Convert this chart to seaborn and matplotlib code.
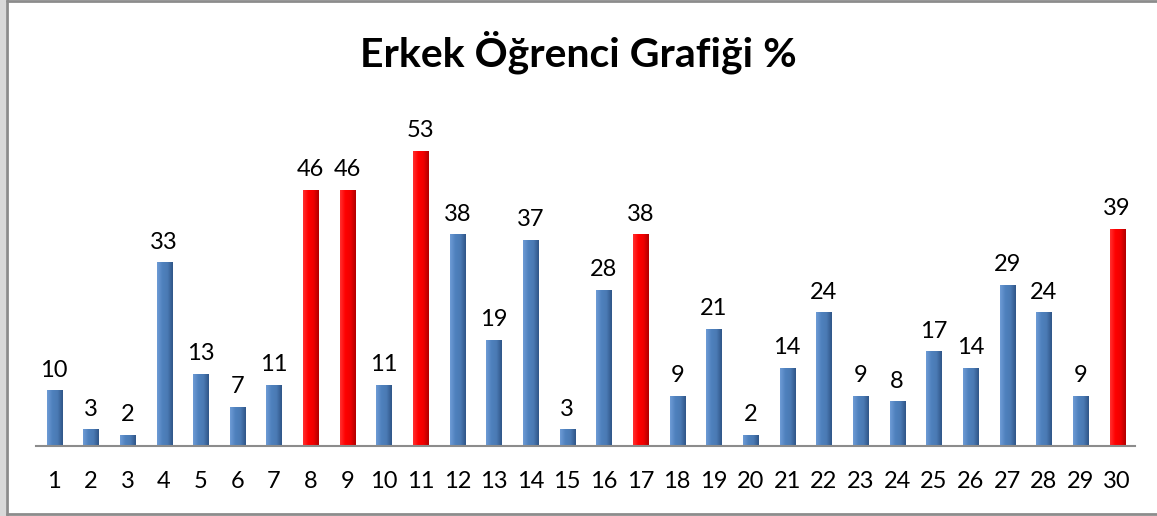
import numpy as np
import pandas as pd
import seaborn as sns
import matplotlib.pyplot as plt
from matplotlib.colors import LinearSegmentedColormap
from matplotlib.lines import Line2D

# Data
students = [str(i) for i in range(1, 31)]
percent = [10, 3, 2, 33, 13, 7, 11, 46, 46, 11, 53, 38, 19, 37, 3,
           28, 38, 9, 21, 2, 14, 24, 9, 8, 17, 14, 29, 24, 9, 39]
highlight = ["8", "9", "11", "17", "30"]

df = pd.DataFrame({"Öğrenci": students, "Yüzde": percent})
df["grup"] = ["kırmızı" if s in highlight else "mavi" for s in students]

sns.set_style("white")
plt.rcParams["font.family"] = ["Lato", "DejaVu Sans"]
plt.rcParams["text.color"] = "black"
plt.rcParams["xtick.color"] = "black"

fig = plt.figure(figsize=(11.57, 5.16), dpi=100)
ax = fig.add_axes([0.0309, 0.1357, 0.9504, 0.6473])

sns.barplot(data=df, x="Öğrenci", y="Yüzde", hue="grup",
            palette={"mavi": "#4F81BD", "kırmızı": "#FF0000"},
            saturation=1, dodge=False, width=0.41, legend=False, ax=ax)

ax.set_ylim(0, 60)
ax.set_xlim(-0.5, 29.5)

# horizontal shading on each bar for the bevelled look
blue_cm = LinearSegmentedColormap.from_list("b", ["#6E9CD6", "#4F81BD", "#4A7AB4", "#2F5587"])
red_cm = LinearSegmentedColormap.from_list("r", ["#FF3030", "#FF0000", "#F00000", "#B00000"])
grad = np.linspace(0, 1, 64).reshape(1, -1)
for patch in list(ax.patches):
    x0, y0 = patch.get_x(), patch.get_y()
    w, h = patch.get_width(), patch.get_height()
    if h <= 0:
        continue
    cm = blue_cm if patch.get_facecolor()[2] > 0.5 else red_cm
    im = ax.imshow(grad, cmap=cm, aspect="auto", extent=(x0, x0 + w, y0, y0 + h),
                   zorder=patch.get_zorder() + 0.1, interpolation="bicubic")
    im.set_clip_path(patch)

ax.set_xlim(-0.5, 29.5)
ax.set_ylim(0, 60)

# value labels
for i, v in enumerate(percent):
    ax.annotate(str(v), (i, v), xytext=(0, 7), textcoords="offset points",
                ha="center", va="bottom", fontsize=17)

ax.set_yticks([])
ax.set_xlabel("")
ax.set_ylabel("")
ax.tick_params(axis="x", length=0, labelsize=17, pad=18)
for side in ["top", "right", "left"]:
    ax.spines[side].set_visible(False)
ax.spines["bottom"].set_color("#8C8C8C")
ax.spines["bottom"].set_linewidth(1.5)
ax.spines["bottom"].set_zorder(5)

fig.suptitle("Erkek Öğrenci Grafiği %", fontsize=29.5, fontweight="bold", y=0.94)

# chart frame (left strip, left/top/bottom border)
W, H = 1157, 516
fig.patches.append(plt.Rectangle((0, 0), 6 / W, 1, transform=fig.transFigure,
                                 facecolor="#D9D9D9", edgecolor="none"))
fx = 7 / W
fig.add_artist(Line2D([fx, fx], [0, 1], transform=fig.transFigure, color="#8C8C8C", lw=2))
fig.add_artist(Line2D([fx, 1], [1 - 1 / H, 1 - 1 / H], transform=fig.transFigure, color="#8C8C8C", lw=2))
fig.add_artist(Line2D([fx, 1], [2 / H, 2 / H], transform=fig.transFigure, color="#8C8C8C", lw=2))

fig.savefig("out.png", dpi=100)
